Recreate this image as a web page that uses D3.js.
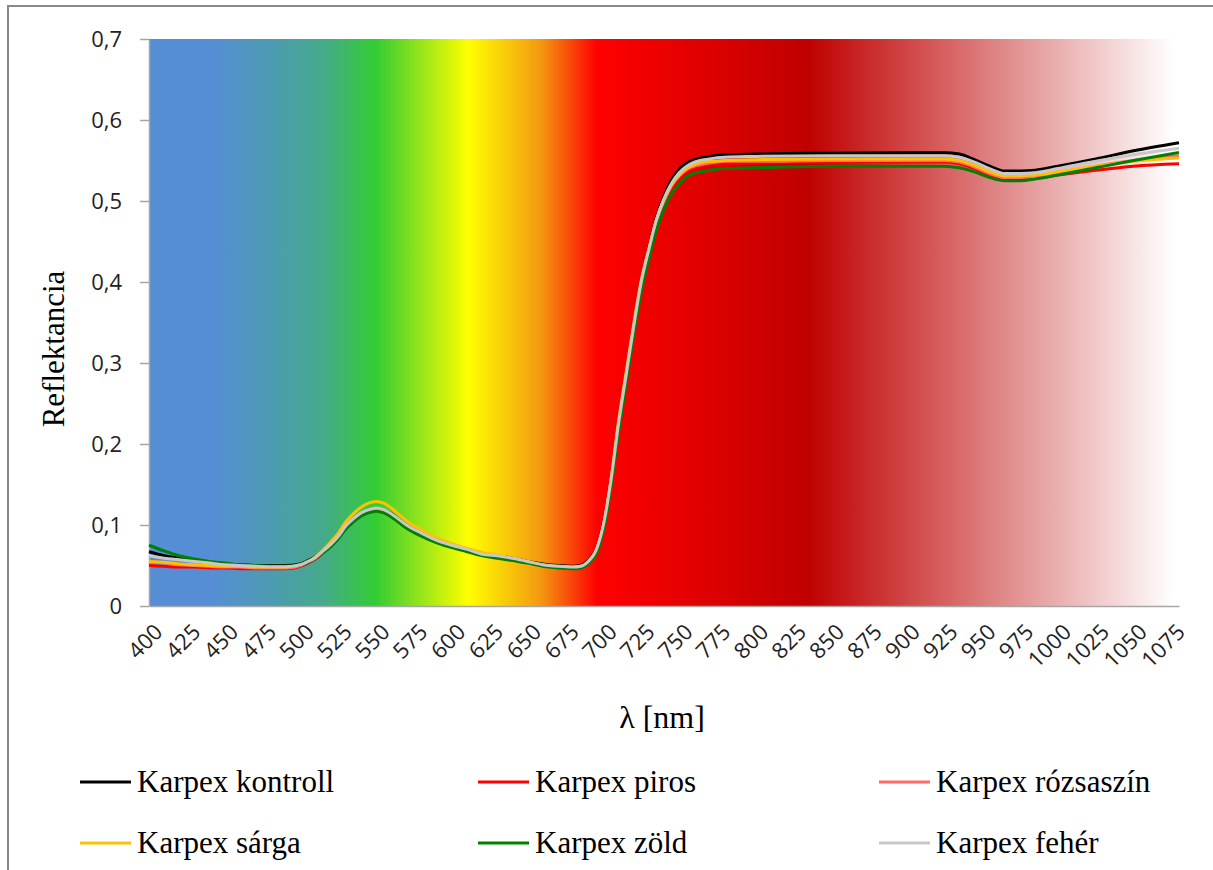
<!DOCTYPE html>
<html>
<head>
<meta charset="utf-8">
<script src="https://cdn.jsdelivr.net/npm/d3@7"></script>
<style>
  body { margin: 0; background: #fff; }
  svg { display: block; }
</style>
</head>
<body>
<svg width="1213" height="870"></svg>
<script>
// hullámhossz (nm) mintapontok
const lambda = [400, 410, 420, 430, 440, 450, 460, 470, 480, 490, 500, 505, 510, 515, 520, 525, 530, 535, 540, 545, 550, 555, 560, 565, 570, 580, 590, 600, 610, 620, 630, 640, 650, 660, 670, 680, 685, 690, 695, 700, 705, 710, 715, 720, 725, 730, 735, 740, 745, 750, 755, 760, 770, 780, 800, 850, 900, 925, 935, 945, 955, 965, 975, 985, 1000, 1025, 1050, 1080];

const kontroll = [0.067, 0.062, 0.059, 0.056, 0.054, 0.052, 0.051, 0.050, 0.050, 0.050, 0.052, 0.056, 0.061, 0.068, 0.076, 0.086, 0.098, 0.107, 0.114, 0.118, 0.120, 0.118, 0.114, 0.107, 0.100, 0.090, 0.081, 0.075, 0.070, 0.065, 0.062, 0.059, 0.055, 0.052, 0.050, 0.049, 0.050, 0.056, 0.069, 0.101, 0.156, 0.226, 0.286, 0.346, 0.401, 0.442, 0.479, 0.506, 0.526, 0.539, 0.547, 0.551, 0.555, 0.557, 0.558, 0.559, 0.5595, 0.5595, 0.558, 0.551, 0.543, 0.537, 0.537, 0.538, 0.543, 0.552, 0.562, 0.572];
const piros = [0.050, 0.049, 0.048, 0.048, 0.047, 0.047, 0.046, 0.046, 0.046, 0.046, 0.049, 0.053, 0.058, 0.066, 0.074, 0.084, 0.097, 0.106, 0.113, 0.117, 0.119, 0.117, 0.113, 0.106, 0.099, 0.089, 0.080, 0.074, 0.069, 0.064, 0.061, 0.058, 0.054, 0.050, 0.048, 0.047, 0.048, 0.054, 0.067, 0.099, 0.153, 0.222, 0.282, 0.342, 0.396, 0.436, 0.472, 0.498, 0.517, 0.529, 0.537, 0.541, 0.545, 0.546, 0.547, 0.548, 0.548, 0.548, 0.546, 0.540, 0.532, 0.527, 0.527, 0.528, 0.532, 0.538, 0.543, 0.546];
const rozsaszin = [0.055, 0.053, 0.051, 0.050, 0.049, 0.048, 0.048, 0.047, 0.047, 0.047, 0.050, 0.054, 0.059, 0.067, 0.075, 0.085, 0.098, 0.107, 0.114, 0.118, 0.120, 0.118, 0.113, 0.106, 0.099, 0.089, 0.080, 0.075, 0.070, 0.065, 0.062, 0.058, 0.054, 0.050, 0.048, 0.047, 0.048, 0.054, 0.067, 0.099, 0.154, 0.224, 0.284, 0.344, 0.398, 0.438, 0.474, 0.500, 0.519, 0.531, 0.539, 0.543, 0.547, 0.549, 0.549, 0.550, 0.550, 0.550, 0.548, 0.542, 0.534, 0.529, 0.529, 0.530, 0.535, 0.543, 0.550, 0.556];
const sarga = [0.055, 0.054, 0.052, 0.051, 0.050, 0.049, 0.049, 0.048, 0.048, 0.048, 0.051, 0.055, 0.061, 0.069, 0.079, 0.090, 0.104, 0.114, 0.122, 0.127, 0.129, 0.127, 0.121, 0.113, 0.105, 0.094, 0.084, 0.077, 0.071, 0.066, 0.063, 0.059, 0.055, 0.051, 0.049, 0.048, 0.049, 0.055, 0.068, 0.100, 0.156, 0.228, 0.288, 0.348, 0.402, 0.441, 0.477, 0.502, 0.520, 0.532, 0.540, 0.545, 0.549, 0.550, 0.551, 0.552, 0.552, 0.552, 0.550, 0.544, 0.536, 0.531, 0.531, 0.532, 0.536, 0.543, 0.549, 0.553];
const zold = [0.075, 0.068, 0.062, 0.058, 0.055, 0.053, 0.051, 0.050, 0.049, 0.049, 0.051, 0.054, 0.059, 0.066, 0.073, 0.083, 0.095, 0.104, 0.111, 0.115, 0.117, 0.115, 0.110, 0.103, 0.096, 0.086, 0.078, 0.072, 0.067, 0.062, 0.059, 0.056, 0.053, 0.049, 0.047, 0.046, 0.047, 0.052, 0.063, 0.093, 0.146, 0.214, 0.274, 0.334, 0.388, 0.428, 0.464, 0.490, 0.509, 0.521, 0.530, 0.534, 0.538, 0.540, 0.541, 0.543, 0.543, 0.543, 0.541, 0.536, 0.529, 0.525, 0.525, 0.527, 0.532, 0.541, 0.550, 0.560];
const feher = [0.062, 0.059, 0.057, 0.055, 0.053, 0.051, 0.050, 0.049, 0.0485, 0.0485, 0.051, 0.055, 0.060, 0.068, 0.076, 0.086, 0.099, 0.108, 0.115, 0.119, 0.121, 0.119, 0.114, 0.107, 0.100, 0.090, 0.081, 0.075, 0.070, 0.064, 0.062, 0.059, 0.055, 0.051, 0.049, 0.048, 0.049, 0.055, 0.068, 0.100, 0.155, 0.225, 0.285, 0.345, 0.400, 0.440, 0.477, 0.503, 0.522, 0.535, 0.543, 0.548, 0.552, 0.554, 0.555, 0.556, 0.556, 0.556, 0.554, 0.548, 0.540, 0.534, 0.534, 0.535, 0.540, 0.549, 0.557, 0.565];

const seriesNames = ["Karpex kontroll", "Karpex piros", "Karpex rózsaszín", "Karpex sárga", "Karpex zöld", "Karpex fehér"];
const seriesValues = [kontroll, piros, rozsaszin, sarga, zold, feher];
const seriesColors = ["#000000", "#ff0000", "#ff6b6b", "#ffc000", "#008000", "#c8c8c8"];

const xTicks = [400, 425, 450, 475, 500, 525, 550, 575, 600, 625, 650, 675, 700, 725, 750, 775, 800, 825, 850, 875, 900, 925, 950, 975, 1000, 1025, 1050, 1075];
const yTicks = [0, 0.1, 0.2, 0.3, 0.4, 0.5, 0.6, 0.7];

// háttér színátmenet (spektrum)
const bgStops = [
  [0, "#558ed5"], [0.06, "#558ed5"], [0.12, "#4c9bb0"], [0.17, "#45aa8a"],
  [0.22, "#33cc33"], [0.31, "#ffff00"], [0.38, "#f39a10"], [0.435, "#ff0000"],
  [0.64, "#c00000"], [0.80, "#db7474"], [0.995, "#ffffff"], [1, "#ffffff"]
];

const svg = d3.select("svg");
const margin = { left: 149, top: 39, right: 1179, bottom: 606 };

const x = d3.scaleLinear().domain([400, 1080]).range([margin.left, margin.right]);
const y = d3.scaleLinear().domain([0, 0.7]).range([margin.bottom, margin.top]);

// keret
svg.append("rect")
  .attr("x", 8).attr("y", 6)
  .attr("width", 1240).attr("height", 900)
  .attr("fill", "none")
  .attr("stroke", "#898989")
  .attr("stroke-width", 2);

const grad = svg.append("defs").append("linearGradient")
  .attr("id", "spektrum")
  .attr("x1", "0%").attr("x2", "100%").attr("y1", "0%").attr("y2", "0%");
grad.selectAll("stop")
  .data(bgStops)
  .join("stop")
  .attr("offset", d => d[0])
  .attr("stop-color", d => d[1]);

svg.append("rect")
  .attr("x", margin.left).attr("y", margin.top)
  .attr("width", margin.right - margin.left)
  .attr("height", margin.bottom - margin.top)
  .attr("fill", "url(#spektrum)");

// y tengely
const yAxis = svg.append("g")
  .attr("transform", `translate(${margin.left},0)`)
  .call(d3.axisLeft(y).tickValues(yTicks).tickSize(9).tickSizeOuter(0).tickPadding(18)
    .tickFormat(d => d === 0 ? "0" : d3.format(".1f")(d).replace(".", ",")));
yAxis.selectAll("path, line").attr("stroke", "#a6a6a6").attr("stroke-width", 1.5);
yAxis.selectAll("text")
  .style("font", "22px 'Open Sans', sans-serif")
  .attr("fill", "#222");

// x tengely
const xAxis = svg.append("g")
  .attr("transform", `translate(0,${margin.bottom})`)
  .call(d3.axisBottom(x).tickValues(xTicks).tickSize(0).tickSizeOuter(0).tickFormat(d => d));
xAxis.select("path").attr("stroke", "#a6a6a6").attr("stroke-width", 1.5);
xAxis.selectAll("text")
  .style("font", "22px 'Open Sans', sans-serif")
  .attr("fill", "#222")
  .attr("text-anchor", "end")
  .attr("dy", "0.35em")
  .attr("transform", "translate(9,22) rotate(-45)")
  .attr("y", 0);

// görbék
const line = d3.line()
  .x((d, i) => x(lambda[i]))
  .y(d => y(d))
  .curve(d3.curveMonotoneX);

svg.append("g")
  .selectAll("path")
  .data(seriesValues)
  .join("path")
  .attr("fill", "none")
  .attr("stroke", (d, i) => seriesColors[i])
  .attr("stroke-width", 3)
  .attr("stroke-linejoin", "round")
  .attr("d", line);

// tengelycímek
svg.append("text")
  .attr("x", 662).attr("y", 728)
  .attr("text-anchor", "middle")
  .style("font", "32px 'Liberation Serif', serif")
  .text("λ [nm]");

svg.append("text")
  .attr("transform", "translate(64,349) rotate(-90)")
  .attr("text-anchor", "middle")
  .style("font", "31px 'Liberation Serif', serif")
  .text("Reflektancia");

// jelmagyarázat
const legendPos = [[80, 782], [478, 782], [879, 782], [80, 843], [478, 843], [879, 843]];
const legend = svg.append("g")
  .selectAll("g")
  .data(seriesNames)
  .join("g")
  .attr("transform", (d, i) => `translate(${legendPos[i][0]},${legendPos[i][1]})`);
legend.append("line")
  .attr("x1", 0).attr("x2", 51)
  .attr("stroke", (d, i) => seriesColors[i])
  .attr("stroke-width", 3);
legend.append("text")
  .attr("x", 57).attr("dy", "0.33em")
  .style("font", "31px 'Liberation Serif', serif")
  .text(d => d);
</script>
</body>
</html>
